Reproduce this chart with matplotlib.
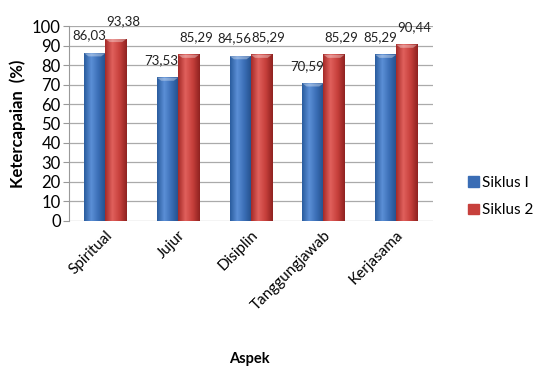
import numpy as np
import matplotlib
matplotlib.use("Agg")
import matplotlib.pyplot as plt
from matplotlib.colors import LinearSegmentedColormap

plt.rcParams["font.family"] = ["Lato", "DejaVu Sans"]

aspek = ["Spiritual", "Jujur", "Disiplin", "Tanggungjawab", "Kerjasama"]
siklus1 = [86.03, 73.53, 84.56, 70.59, 85.29]
siklus2 = [93.38, 85.29, 85.29, 85.29, 90.44]
yticks = list(range(0, 101, 10))

fig = plt.figure(figsize=(5.37, 3.67), dpi=100)
ax = fig.add_axes([0.1285, 0.398, 0.677, 0.531])

x = np.arange(len(aspek))
w = 0.29

blue_cmap = LinearSegmentedColormap.from_list("b", ["#2a5c9e", "#5b8fd6", "#3a6db5", "#234f8a"])
red_cmap = LinearSegmentedColormap.from_list("r", ["#a52a28", "#e0605c", "#c7403c", "#8f2220"])

b1 = ax.bar(x - w / 2, siklus1, w, color="#4a7fc8", label="Siklus I", zorder=2)
b2 = ax.bar(x + w / 2, siklus2, w, color="#cc4440", label="Siklus 2", zorder=2)

grad = np.linspace(0, 1, 64).reshape(1, -1)
for bars, cmap in ((b1, blue_cmap), (b2, red_cmap)):
    for b in bars:
        x0, h, bw = b.get_x(), b.get_height(), b.get_width()
        ax.imshow(grad, cmap=cmap, aspect="auto", extent=(x0, x0 + bw, 0, h), zorder=3)
        # lighter cap on top
        ax.fill([x0, x0 + bw, x0 + bw * 0.8, x0 + bw * 0.2], [h, h, h - 1.6, h - 1.6],
                color="white", alpha=0.35, zorder=4, lw=0)
        b.set_alpha(0)

for i in range(len(aspek)):
    ax.text(x[i] - w / 2 - 0.08, siklus1[i] + 6, f"{siklus1[i]:.2f}".replace(".", ","),
            ha="center", va="bottom", fontsize=9.5, color="#222222", clip_on=False)
    ax.text(x[i] + w / 2 + 0.1, siklus2[i] + 6, f"{siklus2[i]:.2f}".replace(".", ","),
            ha="center", va="bottom", fontsize=9.5, color="#222222", clip_on=False)

ax.set_xlim(-0.5, len(aspek) - 0.5)
ax.set_ylim(0, 100)
ax.set_yticks(yticks)
ax.tick_params(axis="y", labelsize=12, length=4, color="#999999", pad=2)
ax.tick_params(axis="x", length=0, pad=5)
ax.set_xticks(x)
ax.set_xticklabels(aspek, rotation=45, ha="right", rotation_mode="anchor", fontsize=11)
ax.yaxis.grid(True, color="#aaaaaa", lw=0.9, zorder=0)
ax.set_axisbelow(True)
for s in ["top", "right", "bottom"]:
    ax.spines[s].set_visible(False)
ax.spines["left"].set_color("#999999")

ax.set_ylabel("Ketercapaian  (%)", fontsize=12, fontweight="bold", labelpad=4)
fig.text(0.465, 0.012, "Aspek", fontsize=10.5, fontweight="bold", ha="center")

leg = ax.legend(loc="center left", bbox_to_anchor=(1.06, 0.125), frameon=False,
                fontsize=11, handlelength=0.7, handleheight=0.7, handletextpad=0.2,
                labelspacing=0.9)
for h, c in zip(leg.legend_handles, ["#3a6db5", "#c7403c"]):
    h.set_alpha(1)
    h.set_color(c)

fig.savefig("out.png", dpi=100)
